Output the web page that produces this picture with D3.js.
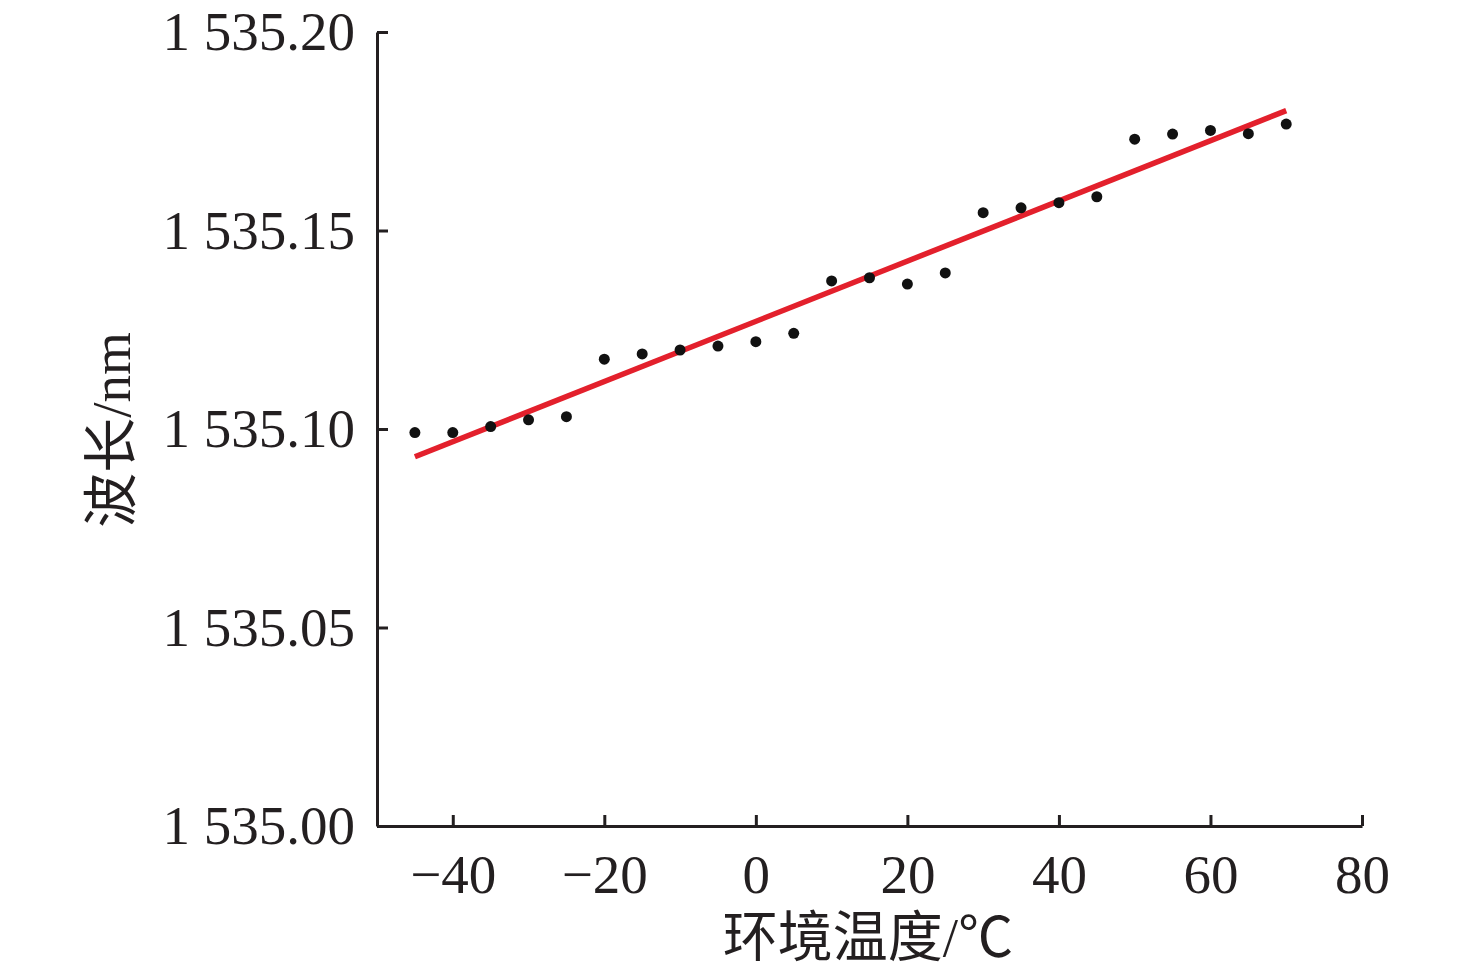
<!DOCTYPE html>
<html>
<head>
<meta charset="utf-8">
<script src="https://d3js.org/d3.v7.min.js"></script>
<style>
    body { margin: 0; background: #fff; }
    .axis path, .axis line { stroke: #231f20; stroke-width: 3px; }
    .axis text { fill: #231f20; font: 55px "Liberation Serif", "Times New Roman", serif; }
    .title { fill: #231f20; font: 55px "Liberation Serif", "Noto Sans CJK SC", serif; }
</style>
</head>
<body>
<script>
// temperature (°C) and measured wavelength (nm)
var temps = [-45, -40, -35, -30, -25, -20, -15, -10, -5, 0, 5, 10,
             15, 20, 25, 30, 35, 40, 45, 50, 55, 60, 65, 70];
var waves = [1535.0991, 1535.0991, 1535.1006, 1535.1023, 1535.1031, 1535.1176,
             1535.1189, 1535.1199, 1535.1209, 1535.1220, 1535.1241, 1535.1373,
             1535.1381, 1535.1365, 1535.1393, 1535.1545, 1535.1557, 1535.1570,
             1535.1585, 1535.1730, 1535.1743, 1535.1752, 1535.1744, 1535.1768];
// fitted line ends
var fitX = [-45, 70];
var fitY = [1535.0930, 1535.1802];

var xTicks = [-40, -20, 0, 20, 40, 60, 80];
var yTicks = [1535.00, 1535.05, 1535.10, 1535.15, 1535.20];
var yTickLabels = ["1 535.00", "1 535.05", "1 535.10", "1 535.15", "1 535.20"];

var width = 1476, height = 974;
var plotLeft = 377, plotRight = 1362, plotTop = 32, plotBottom = 826;

var svg = d3.select("body").append("svg")
    .attr("width", width)
    .attr("height", height);

var x = d3.scaleLinear().domain([-50, 80]).range([plotLeft, plotRight]);
var y = d3.scaleLinear().domain([1535.00, 1535.20]).range([plotBottom, plotTop]);

// axes, ticks point inward
svg.append("g")
    .attr("class", "axis")
    .attr("transform", "translate(0," + plotBottom + ")")
    .call(d3.axisBottom(x).tickValues(xTicks).tickSizeInner(-11).tickSizeOuter(0).tickPadding(28))
    .selectAll("text").attr("dy", "0.71em");

var yAxis = svg.append("g")
    .attr("class", "axis")
    .attr("transform", "translate(" + plotLeft + ",0)")
    .call(d3.axisLeft(y).tickValues(yTicks).tickSizeInner(-11).tickSizeOuter(0).tickPadding(22)
        .tickFormat(function(d, i) { return yTickLabels[i]; }));
yAxis.selectAll("text").attr("dy", "0.32em").style("white-space", "pre");

// fit line
svg.append("line")
    .attr("x1", x(fitX[0])).attr("y1", y(fitY[0]))
    .attr("x2", x(fitX[1])).attr("y2", y(fitY[1]))
    .attr("stroke", "#e3202c")
    .attr("stroke-width", 5.5)
    .attr("stroke-linecap", "butt");

// measured points
svg.selectAll("circle")
    .data(temps)
    .enter().append("circle")
    .attr("cx", function(d) { return x(d); })
    .attr("cy", function(d, i) { return y(waves[i]); })
    .attr("r", 5.5)
    .attr("fill", "#111");

// axis titles
svg.append("text")
    .attr("class", "title")
    .attr("x", 868)
    .attr("y", 956)
    .attr("text-anchor", "middle")
    .text("环境温度/℃");

svg.append("text")
    .attr("class", "title")
    .attr("transform", "translate(130,430) rotate(-90)")
    .attr("text-anchor", "middle")
    .text("波长/nm");
</script>
</body>
</html>
